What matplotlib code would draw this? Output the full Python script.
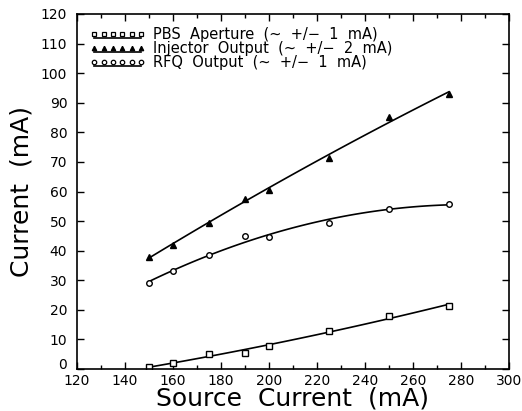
import numpy as np
import matplotlib
matplotlib.use('Agg')
import matplotlib.pyplot as plt
from matplotlib.lines import Line2D
from matplotlib.legend_handler import HandlerLine2DCompound
from matplotlib.ticker import MultipleLocator

# source current (mA)
source = [150, 160, 175, 190, 200, 225, 250, 275]
pbs = [0.8, 1.9, 5.1, 5.6, 7.8, 12.8, 17.9, 21.4]
injector = [38.0, 41.9, 49.5, 57.6, 60.5, 71.4, 85.3, 92.9]
rfq = [29.2, 33.2, 38.5, 45.0, 44.5, 49.5, 54.2, 55.7]

labels = ['PBS  Aperture  (~  +/\u2212  1  mA)',
          'Injector  Output  (~  +/\u2212  2  mA)',
          'RFQ  Output  (~  +/\u2212  1  mA)']


class ShiftedLine(HandlerLine2DCompound):
    # legend line sits a bit under the row of markers
    def create_artists(self, legend, orig_handle, xdescent, ydescent,
                       width, height, fontsize, trans):
        arts = super().create_artists(legend, orig_handle, xdescent, ydescent,
                                      width, height, fontsize, trans)
        arts[0].set_ydata(np.asarray(arts[0].get_ydata()) - 0.4 * height)
        return arts


fig = plt.figure(figsize=(5.22, 4.11), dpi=100)
ax = fig.add_axes([0.1475, 0.102, 0.8275, 0.864])

styles = [('s', 'white'), ('^', 'black'), ('o', 'white')]
handles = []
for ys, (mk, fc), lab in zip([pbs, injector, rfq], styles, labels):
    x = np.array(source, dtype=float)
    coef = np.polyfit(x, ys, 2)
    xs = np.linspace(x[0], x[-1], 100)
    ax.plot(xs, np.polyval(coef, xs), color='black', lw=1.2)
    ax.plot(x, ys, linestyle='none', marker=mk, ms=4, mfc=fc, mec='black', mew=1)
    h, = ax.plot([], [], color='black', lw=1.2, marker=mk, ms=3.2, mfc=fc,
                 mec='black', mew=0.9, label=lab)
    handles.append(h)

ax.set_xlim(120, 300)
ax.set_ylim(0, 120)
ax.xaxis.set_major_locator(MultipleLocator(20))
ax.xaxis.set_minor_locator(MultipleLocator(10))
ax.yaxis.set_major_locator(MultipleLocator(10))
ax.tick_params(which='both', direction='in', top=True, right=True,
               labelsize=10, width=1)
ax.tick_params(which='major', length=5)
ax.tick_params(which='minor', length=3)
ax.tick_params(axis='y', pad=7)
for s in ax.spines.values():
    s.set_linewidth(1.2)

ax.set_xlabel('Source  Current  (mA)', fontsize=18, labelpad=-1)
ax.set_ylabel('Current  (mA)', fontsize=18, labelpad=5)

ax.legend(handles=handles, loc='upper left', frameon=False, numpoints=6,
          handlelength=3.8, handletextpad=0.5, labelspacing=-0.08,
          fontsize=10.5, borderaxespad=0.6, borderpad=0.3,
          handler_map={Line2D: ShiftedLine()})

# the "0" sits a little above the corner, clear of the "120"
fig.canvas.draw()
for t in ax.yaxis.get_major_ticks():
    if t.get_loc() == 0:
        t.label1.set_verticalalignment('baseline')

fig.savefig('out.png', dpi=100)
